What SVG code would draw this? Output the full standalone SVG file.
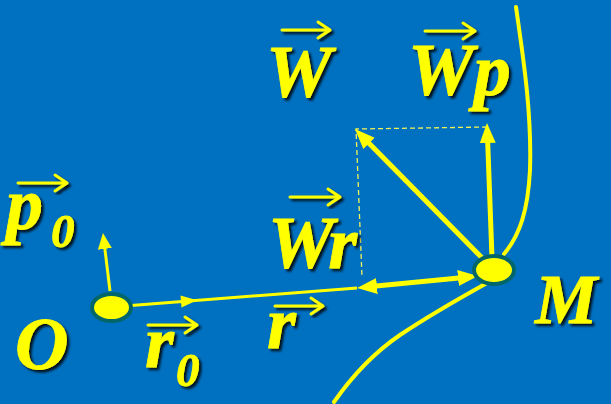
<svg xmlns="http://www.w3.org/2000/svg" width="611" height="404" viewBox="0 0 611 404">
<style>
.lbl{font-family:"Liberation Serif","Times New Roman",serif;font-weight:bold;font-style:italic;font-size:74px;fill:#FFFF00;stroke:#FFFF00;stroke-width:0.8;filter:url(#sh)}
.sub{font-size:47px}
.ov{fill:none;stroke:#FFFF00;stroke-width:3;stroke-linecap:round;stroke-linejoin:round;filter:url(#sh)}
.vec{fill:none;stroke:#FFFF00;stroke-width:5}
.thin{fill:none;stroke:#FFFF00;stroke-width:3}
.crv{fill:none;stroke:#FFFF00;stroke-width:4;stroke-linecap:round}
.dash{fill:none;stroke:#F2F25A;stroke-width:1.3;stroke-dasharray:5 3}
.node{fill:#FFFF00;stroke:#00666A;stroke-width:4}
</style>
<defs>
<filter id="sh" x="-20%" y="-20%" width="140%" height="140%">
<feDropShadow dx="2.5" dy="2.5" stdDeviation="1" flood-color="#000" flood-opacity="0.85"/>
</filter>
<marker id="ah" viewBox="0 0 20 16" refX="6" refY="8" markerWidth="20" markerHeight="16" markerUnits="userSpaceOnUse" orient="auto-start-reverse">
<path d="M0,0 L20,8 L0,16 z" fill="#FFFF00"/>
</marker>
<marker id="ahs" viewBox="0 0 16 14" refX="4" refY="7" markerWidth="16" markerHeight="14" markerUnits="userSpaceOnUse" orient="auto">
<path d="M0,0 L16,7 L0,14 z" fill="#FFFF00"/>
</marker>
</defs>
<rect width="611" height="404" fill="#0070C0"/>
<g id="connectors">
<path class="crv" d="M516,7 C522,50 532,110 530,170 C528,210 520,235 504,254"/>
<path class="crv" d="M487,283 C460,298 430,315 400,335 C375,352 355,372 334,402"/>
<path class="dash" d="M487,127 L356,129 L362,277"/>
<polyline class="thin" points="112,307 357,288"/>
<polygon points="197,300.3 181.5,307.6 180.5,295.6" fill="#FFFF00"/>
<line class="thin" x1="110" y1="291" x2="104.4" y2="244.9" marker-end="url(#ahs)"/>
<line class="vec" x1="464" y1="277.4" x2="371" y2="286.6" marker-start="url(#ah)" marker-end="url(#ah)"/>
<line class="vec" x1="494" y1="270" x2="364.8" y2="139" marker-end="url(#ah)"/>
<line class="vec" x1="492" y1="258" x2="487.5" y2="137" marker-end="url(#ah)"/>
</g>
<g id="node-O">
<ellipse class="node" cx="111.5" cy="307.5" rx="19.5" ry="13.5"/>
<text class="lbl" x="15" y="369">O</text>
</g>
<g id="node-M">
<ellipse class="node" cx="494" cy="270" rx="20" ry="14"/>
<text class="lbl" x="535" y="323" style="font-size:70px">M</text>
</g>
<g id="label-W">
<text class="lbl" x="266" y="97">W</text>
<path class="ov" d="M282,30 L330,30 M318,22 L330,30 L318,38"/>
</g>
<g id="label-Wp">
<text class="lbl" x="408" y="95">Wp</text>
<path class="ov" d="M425,31 L475,31 M463,23 L475,31 L463,39"/>
</g>
<g id="label-Wr">
<text class="lbl" x="268" y="268">Wr</text>
<path class="ov" d="M290,197 L340,197 M328,189 L340,197 L328,205"/>
</g>
<g id="label-r">
<text class="lbl" x="267" y="348">r</text>
<path class="ov" d="M275,306 L323,306 M311,298 L323,306 L311,314"/>
</g>
<g id="label-p0">
<text class="lbl" x="6" y="229">p</text>
<text class="lbl sub" x="51" y="247">0</text>
<path class="ov" d="M18,183 L67,183 M55,175 L67,183 L55,191"/>
</g>
<g id="label-r0">
<text class="lbl" x="145" y="367">r</text>
<text class="lbl sub" x="176" y="386">0</text>
<path class="ov" d="M148,325 L197,325 M185,317 L197,325 L185,333"/>
</g>
</svg>
